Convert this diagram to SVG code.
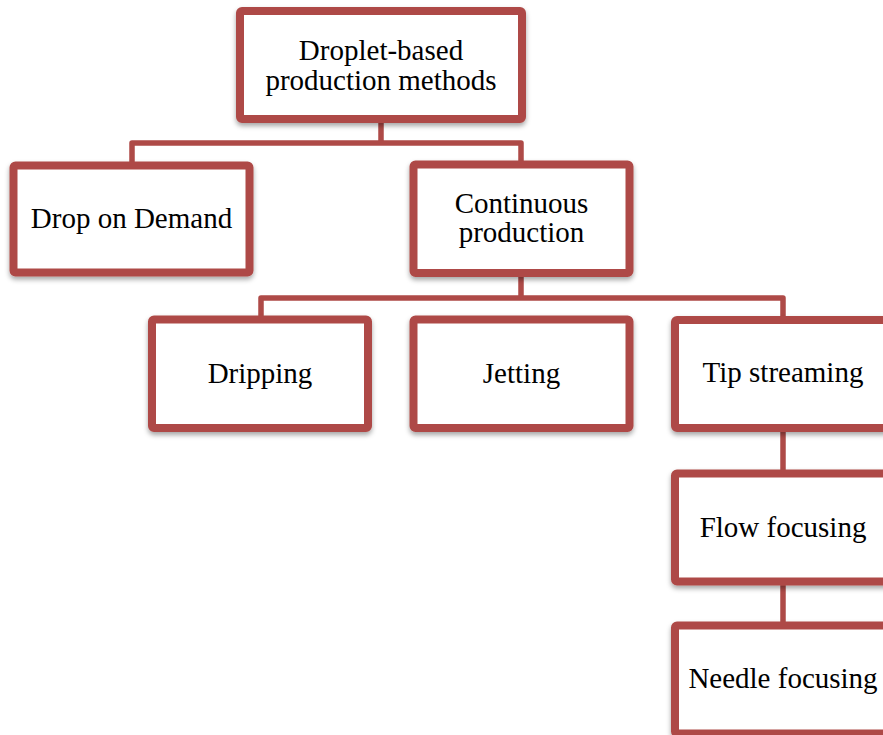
<svg xmlns="http://www.w3.org/2000/svg" width="883" height="735" viewBox="0 0 883 735">
  <defs>
    <filter id="sh" x="-10%" y="-10%" width="120%" height="130%">
      <feDropShadow dx="0" dy="3" stdDeviation="2.5" flood-color="#000" flood-opacity="0.35"/>
    </filter>
    <style>
      .box { fill: #fff; stroke: #AE4A47; stroke-width: 8; stroke-linejoin: round; filter: url(#sh); }
      .con { fill: none; stroke: #AE4A47; stroke-width: 5.5; stroke-linejoin: round; }
      .t { font-family: "Liberation Serif", "Times New Roman", serif; font-size: 29px; fill: #000; text-anchor: middle; }
    </style>
  </defs>
  <rect width="883" height="735" fill="#fff"/>

  <g id="connectors">
    <path class="con" d="M381,119 V143 M132,165 V143 H521 V165"/>
    <path class="con" d="M521,273 V298 M261,320 V298 H783 V320"/>
    <path class="con" d="M783,428 V474"/>
    <path class="con" d="M783,581 V626"/>
  </g>

  <g id="root">
    <rect class="box" x="240" y="11" width="282" height="108" rx="2"/>
    <text class="t" x="381" y="60">Droplet-based</text>
    <text class="t" x="381" y="90">production methods</text>
  </g>
  <g id="drop-on-demand">
    <rect class="box" x="13.5" y="165.5" width="236" height="107" rx="2"/>
    <text class="t" x="131.5" y="228">Drop on Demand</text>
  </g>
  <g id="continuous">
    <rect class="box" x="413.5" y="164.5" width="216" height="108.5" rx="2"/>
    <text class="t" x="521.5" y="213">Continuous</text>
    <text class="t" x="521.5" y="242">production</text>
  </g>
  <g id="dripping">
    <rect class="box" x="152" y="319.5" width="216" height="108.5" rx="2"/>
    <text class="t" x="260" y="383">Dripping</text>
  </g>
  <g id="jetting">
    <rect class="box" x="413.5" y="319.5" width="216" height="108.5" rx="2"/>
    <text class="t" x="521.5" y="383">Jetting</text>
  </g>
  <g id="tip-streaming">
    <rect class="box" x="675" y="320" width="216" height="108" rx="2"/>
    <text class="t" x="783" y="382">Tip streaming</text>
  </g>
  <g id="flow-focusing">
    <rect class="box" x="675" y="473.5" width="216" height="108" rx="2"/>
    <text class="t" x="783" y="537">Flow focusing</text>
  </g>
  <g id="needle-focusing">
    <rect class="box" x="675" y="625.5" width="216" height="108" rx="2"/>
    <text class="t" x="783" y="688">Needle focusing</text>
  </g>
</svg>
